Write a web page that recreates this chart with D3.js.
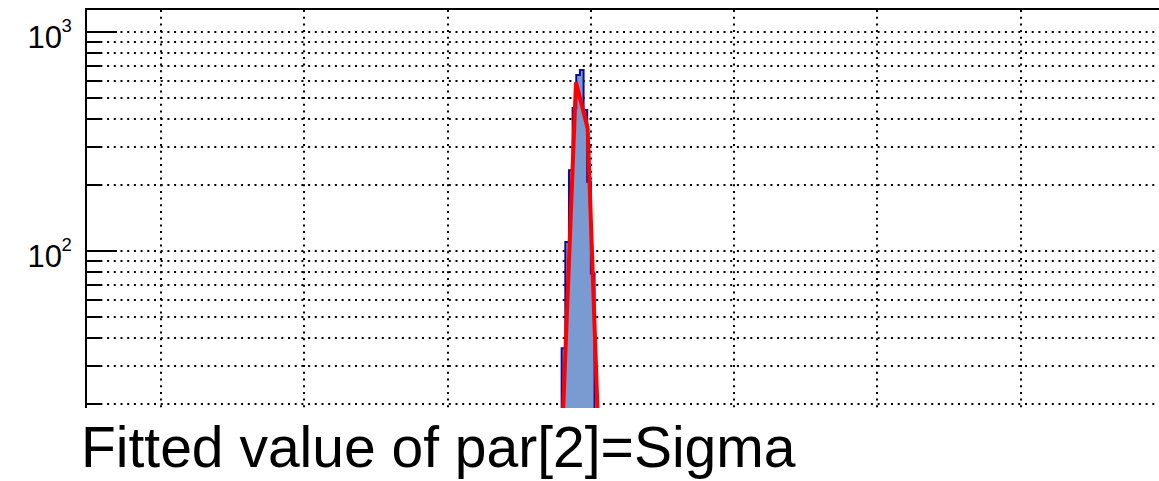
<!DOCTYPE html>
<html>
<head>
<meta charset="utf-8">
<script src="https://cdn.jsdelivr.net/npm/d3@7"></script>
<style>
  html, body { margin: 0; padding: 0; background: #ffffff; }
  svg { display: block; }
  text { font-family: "Liberation Sans", Arial, Helvetica, sans-serif; fill: #000; }
</style>
</head>
<body>
<svg id="chart" width="1159" height="481"></svg>
<script>
// ---- data ----
const xGridValues = [1, 2, 3, 4, 5, 6, 7];            // vertical dotted grid lines (major x divisions)
const binEdges = [3.7962, 3.8217, 3.8472, 3.8727, 3.8982, 3.9237, 3.9492, 3.9747, 4.0002, 4.0257];
const binCounts = [36, 110, 234, 450, 636, 670, 440, 207, 79];
const fitX = [3.7983, 3.8961, 3.9777, 4.0593];        // points of the fitted Gaussian polyline
const fitY = [13.6, 590, 364, 10.8];
const yMajorTicks = [100, 1000];
const yMajorLabels = [["10", "2"], ["10", "3"]];
const xTitle = "Fitted value of par[2]=Sigma";

// ---- layout ----
(function () {
const svg = d3.select("#chart");
const W = 1159, H = 481;
const pLeft = 86, pTop = 9, pBottom = 408, pRight = 1164;

svg.append("rect").attr("width", W).attr("height", H).attr("fill", "#fff");

const x = d3.scaleLinear().domain([0.4766, 8.0]).range([pLeft, pRight]);
const y = d3.scaleLog().domain([19.2, 1274]).range([pBottom, pTop]);

const defs = svg.append("defs");
defs.append("clipPath").attr("id", "plotclip")
  .append("rect").attr("x", pLeft).attr("y", pTop).attr("width", pRight - pLeft).attr("height", pBottom - pTop);

const allYTicks = y.ticks().filter(v => v >= 20 && v <= 1000);

// grid
const grid = svg.append("g").attr("stroke", "#000").attr("stroke-width", 2)
  .attr("stroke-dasharray", "2,4.7").attr("fill", "none");
grid.selectAll("line.h").data(allYTicks).join("line").attr("class", "h")
  .attr("x1", pLeft + 1).attr("x2", W)
  .attr("y1", d => Math.round(y(d))).attr("y2", d => Math.round(y(d)));
grid.selectAll("line.v").data(xGridValues).join("line").attr("class", "v")
  .attr("x1", d => Math.round(x(d))).attr("x2", d => Math.round(x(d)))
  .attr("y1", pTop + 1).attr("y2", pBottom);

// histogram
const plot = svg.append("g").attr("clip-path", "url(#plotclip)");
const pts = [];
pts.push([x(binEdges[0]), pBottom + 20]);
binCounts.forEach((c, i) => {
  pts.push([x(binEdges[i]), y(c)]);
  pts.push([x(binEdges[i + 1]), y(c)]);
});
pts.push([x(binEdges[binEdges.length - 1]), pBottom + 20]);
const line = d3.line();
plot.append("path").attr("d", line(pts) + "Z")
  .attr("fill", "#7a9bd2").attr("stroke", "none");
plot.append("path").attr("d", line(pts))
  .attr("fill", "none").attr("stroke", "#0d0d96").attr("stroke-width", 2);

// fit curve
const fitLine = d3.line().x(d => x(d[0])).y(d => y(d[1]));
plot.append("path").attr("d", fitLine(fitX.map((v, i) => [v, fitY[i]])))
  .attr("fill", "none").attr("stroke", "#ff0000").attr("stroke-width", 4)
  .attr("stroke-linejoin", "miter");

// axis & frame
svg.append("line").attr("x1", pLeft).attr("x2", pLeft).attr("y1", pTop - 1).attr("y2", pBottom)
  .attr("stroke", "#000").attr("stroke-width", 2);
svg.append("line").attr("x1", pLeft - 1).attr("x2", W).attr("y1", pTop).attr("y2", pTop)
  .attr("stroke", "#000").attr("stroke-width", 2);

// y ticks
svg.append("g").selectAll("line").data(allYTicks).join("line")
  .attr("x1", pLeft).attr("x2", d => pLeft + (yMajorTicks.includes(d) ? 31 : 15))
  .attr("y1", d => Math.round(y(d))).attr("y2", d => Math.round(y(d)))
  .attr("stroke", "#000").attr("stroke-width", 2);

// y labels
const lab = svg.append("g");
yMajorTicks.forEach((v, i) => {
  const ty = y(v);
  lab.append("text").attr("x", 62).attr("y", ty + 16).attr("text-anchor", "end")
    .attr("font-size", 31).text(yMajorLabels[i][0]);
  lab.append("text").attr("x", 61.5).attr("y", ty).attr("text-anchor", "start")
    .attr("font-size", 18.5).text(yMajorLabels[i][1]);
});

// x title
svg.append("text").attr("x", 81).attr("y", 466.5).attr("font-size", 57).text(xTitle);
})();
</script>
</body>
</html>
